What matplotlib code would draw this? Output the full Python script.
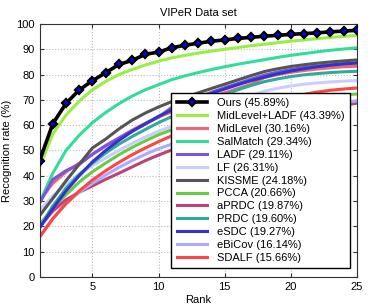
import matplotlib
matplotlib.use('Agg')
import matplotlib.pyplot as plt

plt.rcParams['font.family'] = ['Liberation Sans', 'DejaVu Sans']

ranks = list(range(1, 26))

ours = [45.89, 60.5, 68.6, 73.9, 77.6, 80.7, 84.0, 85.6, 88.0, 88.9, 90.6, 91.6, 92.4, 93.2,
        93.7, 94.3, 94.7, 95.2, 95.5, 95.9, 96.2, 96.5, 96.9, 97.2, 97.5]
midlevel_ladf = [43.39, 56.5, 64.0, 69.5, 74.0, 77.3, 80.0, 82.0, 83.8, 85.3, 86.6, 87.6, 88.5,
                 89.3, 90.0, 90.7, 91.4, 92.0, 92.6, 93.2, 93.7, 94.2, 94.7, 95.1, 95.5]
midlevel = [30.16, 37.0, 41.5, 45.0, 48.5, 52.0, 55.0, 58.0, 60.8, 63.2, 65.3, 67.3, 69.2, 71.0,
            72.8, 74.5, 76.2, 78.8, 80.0, 80.9, 81.6, 82.2, 82.7, 83.1, 83.3]
salmatch = [29.34, 41.0, 50.0, 56.0, 61.0, 65.0, 68.5, 71.5, 74.0, 76.0, 78.0, 79.5, 80.8, 82.0,
            83.1, 84.1, 85.0, 85.9, 86.8, 87.6, 88.3, 89.0, 89.6, 90.1, 90.6]
ladf = [29.11, 38.5, 42.0, 44.5, 48.5, 51.8, 54.8, 57.8, 60.5, 63.2, 67.0, 69.0, 71.0, 73.0,
        74.8, 76.5, 78.2, 79.8, 81.0, 82.0, 82.8, 83.4, 83.9, 84.3, 84.6]
lf = [26.31, 32.0, 36.5, 40.5, 44.0, 47.0, 50.0, 52.8, 55.3, 57.6, 59.6, 61.6, 63.5, 66.0,
      68.0, 69.9, 71.7, 73.4, 74.6, 75.5, 76.2, 76.7, 77.1, 77.4, 77.6]
kissme = [24.18, 31.0, 38.0, 44.5, 51.0, 54.5, 58.5, 62.0, 64.8, 67.2, 69.3, 71.0, 72.8, 74.5,
          76.2, 77.9, 79.6, 81.2, 82.3, 83.2, 83.9, 84.5, 85.0, 85.4, 85.8]
pcca = [20.66, 27.0, 32.5, 37.5, 41.6, 45.0, 48.3, 51.2, 53.8, 56.2, 58.2, 60.2, 62.0, 63.8,
        65.3, 66.7, 67.9, 69.0, 69.9, 70.6, 71.2, 71.6, 71.9, 72.1, 72.3]
aprdc = [19.87, 26.0, 30.5, 33.5, 36.0, 38.6, 41.0, 43.5, 46.0, 48.2, 50.2, 52.0, 53.8, 55.5,
         57.1, 58.6, 60.0, 61.4, 62.7, 63.9, 65.0, 66.0, 67.0, 67.9, 68.7]
prdc = [19.60, 28.0, 35.0, 40.5, 45.0, 49.0, 52.5, 55.5, 58.3, 61.0, 63.4, 65.5, 67.5, 69.3,
        72.0, 74.0, 75.7, 77.2, 78.3, 79.2, 79.9, 80.4, 80.8, 81.1, 81.3]
esdc = [19.27, 27.0, 34.0, 40.0, 45.5, 50.0, 54.0, 57.5, 60.5, 63.5, 66.0, 68.5, 70.5, 72.5,
        74.3, 76.0, 77.6, 79.0, 80.3, 81.4, 82.3, 83.1, 83.7, 84.2, 84.6]
ebicov = [16.14, 23.0, 29.0, 33.5, 37.0, 40.3, 43.3, 46.0, 48.5, 50.7, 52.5, 54.3, 56.0, 57.6,
          59.1, 60.5, 61.8, 63.0, 64.2, 65.3, 66.3, 67.2, 68.1, 68.9, 69.6]
sdalf = [15.66, 23.0, 29.0, 34.0, 38.3, 42.0, 45.3, 48.3, 51.0, 53.5, 55.8, 58.0, 60.0, 62.0,
         63.8, 65.5, 67.1, 68.6, 70.0, 71.2, 72.2, 73.1, 73.8, 74.3, 74.7]

names = ['MidLevel+LADF', 'MidLevel', 'SalMatch', 'LADF', 'LF', 'KISSME', 'PCCA',
         'aPRDC', 'PRDC', 'eSDC', 'eBiCov', 'SDALF']
series = [midlevel_ladf, midlevel, salmatch, ladf, lf, kissme, pcca, aprdc, prdc, esdc, ebicov, sdalf]
colors = ['#99ee44', '#ee6677', '#33dd99', '#7755dd', '#ccccff', '#555555', '#66cc44',
          '#bb4477', '#33aa99', '#3333cc', '#aaaaff', '#ff4444']

fig = plt.figure(figsize=(3.71, 3.06), dpi=100)
ax = fig.add_axes([0.1065, 0.0948, 0.8555, 0.8268])

handles = []
h, = ax.plot(ranks, ours, color='k', lw=2.6, marker='D', ms=4, mfc='b', mec='k', mew=1.6,
             zorder=5, label='Ours (%.2f%%)' % ours[0])
handles.append(h)
for name, vals, c in zip(names, series, colors):
    h, = ax.plot(ranks, vals, color=c, lw=2.2, label='%s (%.2f%%)' % (name, vals[0]))
    handles.append(h)

ax.set_xlim(1, 25)
ax.set_ylim(0, 100)
ax.set_xticks([5, 10, 15, 20, 25])
ax.set_yticks(range(0, 101, 10))
ax.tick_params(direction='in', top=True, right=True, labelsize=8, length=3, color='#333333')
ax.grid(True, linestyle=':', color='#bbbbbb', lw=0.8)
for s in ax.spines.values():
    s.set_color('#333333')

ax.set_title('VIPeR Data set', fontsize=8, pad=6)
ax.set_xlabel('Rank', fontsize=8, labelpad=2)
ax.set_ylabel('Recognition rate (%)', fontsize=8, labelpad=3)

leg = ax.legend(handles=handles, loc='lower right', bbox_to_anchor=(0.995, 0.012),
                fontsize=8, handlelength=2.7, handletextpad=0.9, labelspacing=0.26,
                borderpad=0.5, fancybox=False, framealpha=1, edgecolor='k')
leg.get_frame().set_linewidth(1)
leg.set_zorder(10)

fig.savefig('out.png', dpi=100)
